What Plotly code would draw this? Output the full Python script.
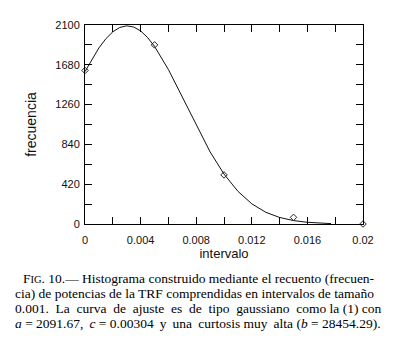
import plotly.graph_objects as go

# ---- data ----
point_x = [0.0, 0.005, 0.010, 0.015, 0.020]
point_y = [1620, 1890, 518, 70, 0]

curve_x = [0.0, 0.0005, 0.001, 0.0015, 0.002, 0.0025, 0.003, 0.0035, 0.004, 0.0045,
           0.005, 0.006, 0.007, 0.008, 0.009, 0.010, 0.011, 0.012, 0.013, 0.014,
           0.015, 0.016, 0.017, 0.0177]
curve_y = [1608, 1741, 1858, 1955, 2028, 2074, 2091, 2079, 2038, 1968,
           1875, 1630, 1339, 1039, 761, 527, 345, 213, 124, 69,
           36, 18, 8, 4]

x_tickvals = [0, 0.002, 0.004, 0.006, 0.008, 0.010, 0.012, 0.014, 0.016, 0.018, 0.020]
x_ticktext = ["0", "", "0.004", "", "0.008", "", "0.012", "", "0.016", "", "0.02"]
y_tickvals = [0, 210, 420, 630, 840, 1050, 1260, 1470, 1680, 1890, 2100]
y_ticktext = ["0", "", "420", "", "840", "", "1260", "", "1680", "", "2100"]

NB = "\u00a0"
TH = "\u2009"
line3_words = ["0.001.", "La", "curva", "de", "ajuste", "es", "de", "tipo",
               "gaussiano", "como", "la", "(1)", "con"]
line3 = line3_words[0]
wide_gaps = {0, 1, 2, 3, 4, 5, 6, 7, 8}
for i, w in enumerate(line3_words[1:]):
    gap = " " + (NB if i in wide_gaps else "")
    line3 += gap + w

caption_lines = [
    "F<span style='font-size:10.5px'>IG</span>. 10.\u2014 Histograma construido mediante el recuento (frecuen-",
    "cia) de potencias de la TRF comprendidas en intervalos de tamaño",
    line3,
    "<i>a</i> = 2091.67," + TH + " <i>c</i> = 0.00304" + TH + " y" + TH + " una" + TH
    + " curtosis muy" + TH + " alta (<i>b</i> = 28454.29).",
]
# positions in the 394x340 window (page body has an 8px margin)
caption_px_y = [280, 295.5, 311, 326.5]
caption_px_x = [21, 13, 13, 13]

# ---- layout geometry (figure sits at +8,+8 inside the window) ----
OFF = 8
W, H = 394 - OFF, 340 - OFF
L, R, T, B = 85 - OFF, 31, 19 - OFF, 116
PW, PH = W - L - R, H - T - B

def px_to_paper(px, py):
    px -= OFF
    py -= OFF
    return (px - L) / PW, (H - B - py) / PH

fig = go.Figure()
fig.add_trace(go.Scatter(x=curve_x, y=curve_y, mode="lines",
                         line=dict(color="#111111", width=1),
                         hoverinfo="skip", showlegend=False, cliponaxis=False))
fig.add_trace(go.Scatter(x=point_x, y=point_y, mode="markers",
                         marker=dict(symbol="diamond-open", size=5, color="#222222",
                                     line=dict(width=1, color="#222222")),
                         showlegend=False, cliponaxis=False))

axis_common = dict(showgrid=False, zeroline=False, showline=True, linecolor="black",
                   linewidth=1, mirror="ticks", ticks="inside", ticklen=7,
                   tickcolor="black", tickwidth=1,
                   tickfont=dict(family="Liberation Sans, Arial, sans-serif", size=11,
                                 color="#111111"))

fig.update_xaxes(range=[0, 0.02], tickmode="array", tickvals=x_tickvals, ticktext=x_ticktext,
                 ticklabelstandoff=6,
                 title=dict(text="intervalo", standoff=3,
                            font=dict(family="Liberation Sans, Arial, sans-serif", size=13,
                                      color="#111111")),
                 **axis_common)
fig.update_yaxes(range=[0, 2100], tickmode="array", tickvals=y_tickvals, ticktext=y_ticktext,
                 ticklabelstandoff=2,
                 title=dict(text="frecuencia", standoff=15,
                            font=dict(family="Liberation Sans, Arial, sans-serif", size=14,
                                      color="#111111")),
                 **axis_common)

annotations = []
for txt, px, py in zip(caption_lines, caption_px_x, caption_px_y):
    ax, ay = px_to_paper(px, py)
    annotations.append(dict(text=txt, x=ax, y=ay, xref="paper", yref="paper",
                            xanchor="left", yanchor="middle", showarrow=False,
                            font=dict(family="Liberation Serif, Times New Roman, serif",
                                      size=13.5, color="black")))

fig.update_layout(width=W, height=H, margin=dict(l=L, r=R, t=T, b=B, pad=0),
                  plot_bgcolor="white", paper_bgcolor="white",
                  annotations=annotations)

fig.write_html("out.html")
